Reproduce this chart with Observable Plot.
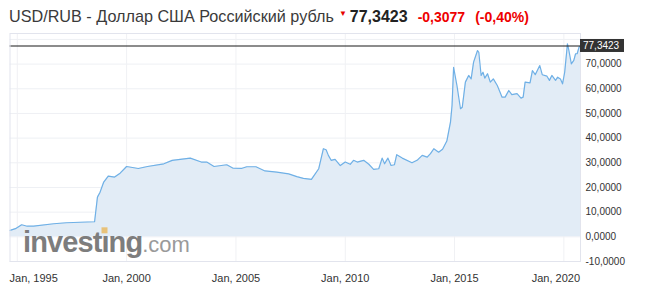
<!DOCTYPE html>
<html>
<head>
<meta charset="utf-8">
<script src="https://cdn.jsdelivr.net/npm/d3@7"></script>
<script src="https://cdn.jsdelivr.net/npm/@observablehq/plot@0.6"></script>
<style>
  html, body { margin: 0; padding: 0; background: #fff; }
  #wrap { position: relative; width: 646px; height: 302px; font-family: "Liberation Sans", Arial, sans-serif; }
  #head { height: 30px; line-height: 32px; padding-left: 9px; white-space: nowrap; color: #333; }
  #head .t { font-size: 16.2px; color: #3a3a3a; }
  #head .arr { color: #e60000; font-size: 8px; position: relative; top: -6px; margin: 0 3px 0 5px; }
  #head .p { font-size: 16px; font-weight: bold; color: #222; margin-right: 10px; }
  #head .c { font-size: 14px; font-weight: bold; color: #ee0000; margin-right: 10px; }
  #chart svg text { font-family: "Liberation Sans", Arial, sans-serif; }
</style>
</head>
<body>
<div id="wrap">
  <div id="head"></div>
  <div id="chart"></div>
</div>
<script>
// ---- data ----
const titleText = "USD/RUB - Доллар США Российский рубль";
const lastPrice = 77.3423;
const changeText = "-0,3077";
const changePctText = "(-0,40%)";

const dates = [
  "1994-09-01","1994-12-01","1995-03-15","1995-06-15","1995-10-01","1996-09-01","1997-04-01","1998-07-15",
  "1998-09-01","1998-10-15","1998-12-15","1999-03-01","1999-06-15","1999-09-15","2000-01-01","2000-07-15",
  "2000-12-15","2001-09-15","2002-02-01","2002-12-01","2003-06-01","2003-09-01","2004-01-01","2004-08-01",
  "2004-11-15","2005-04-01","2005-07-01","2005-12-01","2006-05-01","2006-11-15","2007-06-01","2007-10-15",
  "2008-02-01","2008-06-15","2008-10-15","2009-01-01","2009-02-15","2009-03-25","2009-05-10","2009-07-15",
  "2009-10-10","2010-01-01","2010-03-25","2010-05-20","2010-07-20","2010-11-05","2011-01-30","2011-04-20",
  "2011-07-15","2011-09-10","2011-10-20","2011-12-15","2012-02-05","2012-04-01","2012-05-10","2012-08-10",
  "2013-01-20","2013-04-15","2013-07-10","2013-10-01","2013-11-25","2014-01-20","2014-04-10","2014-06-15",
  "2014-08-25","2014-10-25","2014-11-20","2014-12-16","2015-02-10","2015-04-10","2015-05-10","2015-07-01",
  "2015-08-25","2015-10-05","2015-11-15","2016-01-20","2016-02-10","2016-03-20","2016-04-20","2016-05-20",
  "2016-07-05","2016-08-20","2016-10-10","2016-12-15","2017-03-05","2017-04-25","2017-06-25","2017-08-15",
  "2017-11-10","2018-01-15","2018-02-20","2018-03-25","2018-06-15","2018-07-25","2018-09-10","2018-11-25",
  "2019-01-05","2019-03-25","2019-05-05","2019-06-15","2019-08-15","2019-09-20","2019-11-05","2019-12-10",
  "2020-01-15","2020-03-01","2020-03-20","2020-05-05","2020-06-15","2020-07-15","2020-08-10","2020-09-10",
  "2020-10-05"
];
const values = [
  2.6, 3.3, 4.9, 4.3, 4.3, 5.3, 5.7, 6.1,
  16.1, 18.1, 22.2, 24.6, 24.2, 25.8, 28.5, 27.7,
  28.5, 29.6, 31.0, 31.9, 30.3, 30.3, 28.5, 29.2,
  27.8, 27.7, 28.4, 28.4, 26.7, 26.2, 25.5, 24.4,
  23.7, 23.3, 27.6, 35.7, 35.3, 33.0, 31.0, 31.4,
  28.9, 30.3, 29.4, 31.0, 30.3, 31.0, 29.4, 27.3,
  27.6, 31.9, 29.6, 31.9, 28.9, 29.2, 33.3, 31.9,
  30.0, 31.0, 33.0, 32.3, 33.7, 35.7, 34.3, 35.5,
  38.8, 46.5, 53.2, 68.7, 61.3, 51.9, 52.5, 62.7,
  65.4, 64.0, 70.8, 75.5, 74.8, 65.4, 66.7, 64.3,
  66.1, 62.7, 64.0, 61.3, 56.6, 56.6, 59.3, 57.6,
  58.0, 56.2, 56.6, 62.7, 62.4, 67.4, 65.7, 69.4,
  65.7, 65.1, 63.4, 65.4, 63.4, 64.7, 64.0, 62.0,
  66.7, 78.2, 76.2, 70.1, 71.5, 74.2, 74.2, 76.8,
  77.3423
];
const xTickDates = ["1995-01-01","2000-01-01","2005-01-01","2010-01-01","2015-01-01","2020-01-01"];
const yGridValues = [-10, 0, 10, 20, 30, 40, 50, 60, 70, 80];
const yLabelValues = [-10, 0, 10, 20, 30, 40, 50, 60, 70];
const yDomain = [-10, 82.4];

// ---- header ----
const head = document.getElementById("head");
head.innerHTML = `<span class="t"></span><span class="arr">&#9660;</span><span class="p"></span><span class="c c1"></span><span class="c c2"></span>`;
head.querySelector(".t").textContent = titleText;
head.querySelector(".p").textContent = lastPrice.toFixed(4).replace(".", ",");
head.querySelector(".c1").textContent = changeText;
head.querySelector(".c2").textContent = changePctText;

// ---- chart ----
const parse = d3.utcParse("%Y-%m-%d");
const data = dates.map((d, i) => ({date: parse(d), value: values[i]}));
const xTicks = xTickDates.map(parse);
const fmtY = d => d.toFixed(4).replace(".", ",");

const W = 646, H = 272, mL = 9.5, mR = 66, mT = 3, mB = 41;

const plot = Plot.plot({
  width: W, height: H,
  marginLeft: mL, marginRight: mR, marginTop: mT, marginBottom: mB,
  style: {fontFamily: '"Liberation Sans", Arial, sans-serif', color: "#333", background: "#fff", overflow: "visible"},
  x: {type: "utc", domain: d3.extent(data, d => d.date), label: null},
  y: {domain: yDomain, label: null},
  marks: [
    Plot.gridY(yGridValues, {stroke: "#eef0f4", strokeOpacity: 1}),
    Plot.gridX(xTicks, {stroke: "#f0f1f4", strokeOpacity: 1}),
    Plot.areaY(data, {x: "date", y: "value", fill: "#e2ecf6"}),
    Plot.lineY(data, {x: "date", y: "value", stroke: "#6fb0e6", strokeWidth: 1.2}),
    Plot.ruleY([lastPrice], {stroke: "#1a1a1a", strokeWidth: 1.1}),
    Plot.frame({stroke: "#e2e4ed"}),
    Plot.axisY(yLabelValues, {anchor: "right", tickSize: 0, tickPadding: 5, tickFormat: fmtY, fontSize: 10, fill: "#333", label: null}),
    Plot.axisX(xTicks, {anchor: "bottom", tickSize: 0, tickPadding: 12.5, fontSize: 11, fill: "#333", label: null,
      tickFormat: d => "Jan, " + d.getUTCFullYear()})
  ]
});
document.getElementById("chart").appendChild(plot);

const svgNS = "http://www.w3.org/2000/svg";
// clamp x-axis labels inside the plot range, like the original
const svgBox = plot.getBoundingClientRect();
plot.querySelectorAll('[aria-label="x-axis tick label"] text').forEach(t => {
  const b = t.getBoundingClientRect();
  const left = b.left - svgBox.left, right = b.right - svgBox.left;
  let shift = 0;
  if (left < mL) shift = mL - left;
  if (right > W - mR) shift = (W - mR) - right;
  if (shift) {
    const tr = t.getAttribute("transform") || "";
    t.setAttribute("transform", tr + ` translate(${shift},0)`);
  }
});

// last price label box
const ys = plot.scale("y");
const yy = ys.apply(lastPrice);
const g = document.createElementNS(svgNS, "g");
const rect = document.createElementNS(svgNS, "rect");
rect.setAttribute("x", W - mR);
rect.setAttribute("y", yy - 6.5);
rect.setAttribute("width", 44);
rect.setAttribute("height", 13);
rect.setAttribute("fill", "#333");
const lt = document.createElementNS(svgNS, "text");
lt.setAttribute("x", W - mR + 3);
lt.setAttribute("y", yy);
lt.setAttribute("dy", "0.35em");
lt.setAttribute("fill", "#fff");
lt.setAttribute("font-size", 10);
lt.setAttribute("text-anchor", "start");
lt.textContent = fmtY(lastPrice);
g.appendChild(rect); g.appendChild(lt);
plot.appendChild(g);

// watermark
const wy = ys.apply(0) + 16;
const wm = document.createElementNS(svgNS, "text");
wm.setAttribute("x", 23);
wm.setAttribute("y", wy);
wm.setAttribute("text-anchor", "start");
const s1 = document.createElementNS(svgNS, "tspan");
s1.setAttribute("font-size", 29); s1.setAttribute("font-weight", "bold"); s1.setAttribute("fill", "#7d7d7d");
s1.setAttribute("letter-spacing", "-0.9");
s1.textContent = "invest\u0131ng";
const s2 = document.createElementNS(svgNS, "tspan");
s2.setAttribute("font-size", 22); s2.setAttribute("fill", "#9a9a9a");
s2.textContent = ".com";
wm.appendChild(s1); wm.appendChild(s2);
plot.appendChild(wm);
try {
  const ext = wm.getExtentOfChar(6);
  const dot = document.createElementNS(svgNS, "rect");
  dot.setAttribute("x", ext.x + ext.width / 2 - 3.5);
  dot.setAttribute("y", wy - 25);
  dot.setAttribute("width", 6);
  dot.setAttribute("height", 6);
  dot.setAttribute("fill", "#e8c27a");
  plot.appendChild(dot);
} catch (e) {}
</script>
</body>
</html>
